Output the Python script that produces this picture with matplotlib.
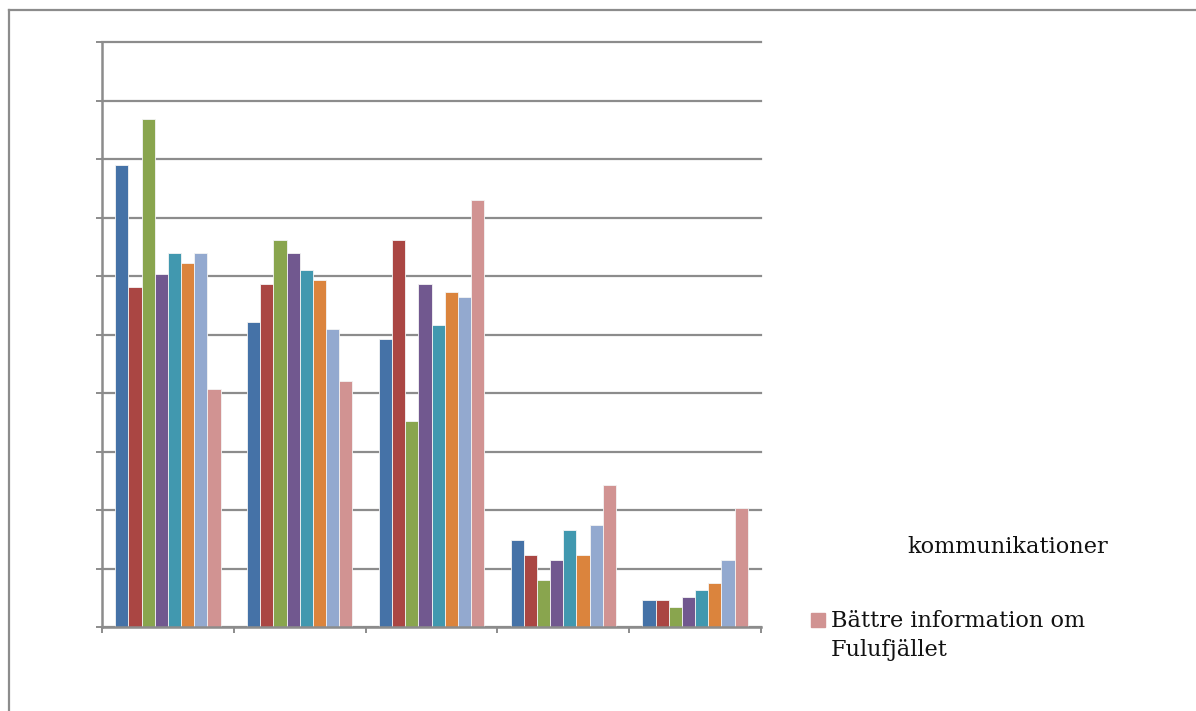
import numpy as np
import matplotlib.pyplot as plt
from matplotlib.lines import Line2D
from matplotlib.patches import Rectangle

colors = ['#4572A7', '#AA4643', '#89A54E', '#71588F',
          '#4198AF', '#DB843D', '#93A9CF', '#D19392']

# values per series (one list per series, 5 categories each)
s1 = [7.89, 5.22, 4.92, 1.48, 0.46]
s2 = [5.81, 5.86, 6.62, 1.23, 0.46]
s3 = [8.69, 6.62, 3.52, 0.81, 0.34]
s4 = [6.03, 6.40, 5.86, 1.15, 0.51]
s5 = [6.40, 6.10, 5.17, 1.65, 0.64]
s6 = [6.23, 5.93, 5.73, 1.23, 0.76]
s7 = [6.40, 5.09, 5.64, 1.74, 1.15]
s8 = [4.07, 4.20, 7.30, 2.42, 2.03]
series = [s1, s2, s3, s4, s5, s6, s7, s8]

legend_tail = "kommunikationer"
last_label = "Bättre information om\nFulufjället"

fig = plt.figure(figsize=(11.96, 7.11), dpi=100)
ax = fig.add_axes([102 / 1196, 1 - 627 / 711, 659 / 1196, 585 / 711])

x = np.arange(5)
w = 0.1
for i, vals in enumerate(series):
    ax.bar(x - 0.35 + i * w, vals, width=w, color=colors[i],
           edgecolor='#f4f4f4', linewidth=0.6, zorder=3)

grid_c = '#8c8c8c'
ax.set_xlim(-0.5, 4.5)
ax.set_ylim(0, 10)
ax.set_yticks(np.arange(0, 11))
ax.set_xticks(np.arange(-0.5, 5, 1))
ax.set_yticklabels([])
ax.set_xticklabels([])
ax.yaxis.grid(True, color=grid_c, linewidth=1.6, zorder=0)
for gl in ax.yaxis.get_gridlines():
    gl.set_clip_on(False)
ax.tick_params(axis='both', color=grid_c, length=4, width=1.4)
for side in ['top', 'right']:
    ax.spines[side].set_visible(False)
for side in ['left', 'bottom']:
    ax.spines[side].set_color(grid_c)
    ax.spines[side].set_linewidth(1.8)
    ax.spines[side].set_zorder(4)

# outer chart border (only left and top visible)
fig.add_artist(Line2D([9 / 1196, 9 / 1196], [0, 1 - 10 / 711],
                      transform=fig.transFigure, color=grid_c, linewidth=1.6))
fig.add_artist(Line2D([9 / 1196, 1], [1 - 10 / 711, 1 - 10 / 711],
                      transform=fig.transFigure, color=grid_c, linewidth=1.6))

# partially visible legend
fig.text(907 / 1196, 1 - 547 / 711, legend_tail, fontsize=16.2,
         family='DejaVu Serif', va='center', ha='left', color='#111111')
fig.add_artist(Rectangle((811 / 1196, 1 - 627 / 711), 14 / 1196, 14 / 711,
                         transform=fig.transFigure, color=colors[7]))
fig.text(831 / 1196, 1 - 610 / 711, last_label, fontsize=16.2,
         family='DejaVu Serif', va='top', ha='left', color='#111111',
         linespacing=1.4)

fig.savefig('out.png', dpi=100)
